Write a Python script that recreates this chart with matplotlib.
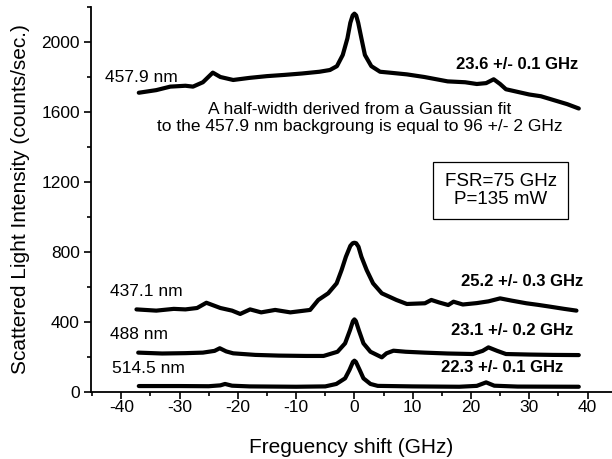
import numpy as np
import matplotlib
matplotlib.use("Agg")
import matplotlib.pyplot as plt
from matplotlib.ticker import MultipleLocator

plt.rcParams['font.family'] = ['Liberation Sans', 'DejaVu Sans']
plt.rcParams['axes.unicode_minus'] = False

# 457.9 nm
x_4579 = [-37, -34, -31.6, -29, -27.7, -26, -24.3, -23, -20.8, -18, -15, -12, -9, -6,
          -4.2, -3.0, -2.0, -1.2, -0.7, -0.3, 0, 0.3, 0.65, 1.2, 1.8, 2.9, 4.4,
          6, 9, 12, 16, 19, 21, 22.6, 23.9, 25, 26, 28, 30, 32, 34, 35, 36.5, 38.5]
y_4579 = [1710, 1725, 1745, 1750, 1745, 1770, 1825, 1800, 1783, 1795, 1805, 1812, 1820, 1830,
          1840, 1862, 1926, 2021, 2110, 2152, 2162, 2152, 2110, 2021, 1926, 1862, 1830,
          1825, 1815, 1800, 1775, 1770, 1760, 1765, 1787, 1760, 1730, 1715, 1700, 1690,
          1670, 1660, 1645, 1620]

# 437.1 nm
x_4371 = [-37.4, -34, -31, -29, -27, -25.4, -23, -21, -19.6, -17.9, -16, -13.6, -11, -7.6,
          -6.2, -4.5, -3.05, -2.2, -1.46, -0.7, -0.3, 0, 0.3, 0.7, 1.2, 2.1, 3.2, 4.7, 7.2,
          9, 12.1, 13.2, 14.5, 16.1, 17, 18.6, 21, 23, 25, 27, 29.5, 31.5, 33.5, 36, 38.1]
y_4371 = [472, 465, 475, 472, 480, 510, 480, 465, 446, 472, 455, 469, 455, 469,
          526, 564, 621, 697, 773, 835, 850, 853, 850, 830, 773, 697, 621, 564, 526,
          503, 507, 526, 512, 497, 516, 500, 508, 518, 535, 522, 507, 498, 488, 475, 465]

# 488 nm
x_488 = [-37.1, -33, -29, -26, -24, -23.1, -22, -20.8, -17, -13, -8.3, -5.3, -2.9, -1.6,
         -0.75, -0.25, 0, 0.25, 0.75, 1.55, 2.75, 4.7, 5.5, 6.7, 8.8, 12, 16, 20.3, 22, 23,
         24.5, 26, 30, 34, 38.5]
y_488 = [225, 220, 222, 225, 235, 250, 232, 221, 212, 208, 206, 206, 230, 278,
         354, 405, 415, 405, 354, 278, 230, 198, 221, 236, 230, 225, 220, 217, 235, 255,
         235, 217, 214, 212, 211]

# 514.5 nm
x_5145 = [-37, -30, -25, -23, -22.2, -21, -18, -10, -5, -3.1, -1.6, -0.85, -0.25, 0,
          0.25, 0.9, 1.55, 2.75, 4, 10, 18, 21, 22.6, 24, 28, 38.5]
y_5145 = [34, 34, 33, 38, 46, 36, 32, 30, 32, 46, 78, 126, 172, 179,
          172, 126, 78, 46, 35, 32, 30, 35, 55, 36, 31, 30]

fig = plt.figure(figsize=(6.12, 4.59), dpi=100)
ax = fig.add_axes([91/612, 67/459, 1 - 91/612, (392 - 7)/459])

for xs, ys in [(x_4579, y_4579), (x_4371, y_4371), (x_488, y_488), (x_5145, y_5145)]:
    ax.plot(xs, ys, color='black', lw=3, solid_capstyle='round', solid_joinstyle='round')

ax.set_xlim(-45.2, 44.2)
ax.set_ylim(0, 2200)
ax.spines['top'].set_visible(False)
ax.spines['right'].set_visible(False)
ax.spines['left'].set_linewidth(1.3)
ax.spines['bottom'].set_linewidth(1.3)
ax.xaxis.set_major_locator(MultipleLocator(10))
ax.xaxis.set_minor_locator(MultipleLocator(5))
ax.yaxis.set_major_locator(MultipleLocator(400))
ax.yaxis.set_minor_locator(MultipleLocator(200))
ax.tick_params(which='major', length=5, width=1.2, labelsize=12.5, direction='out')
ax.tick_params(which='minor', length=3, width=1.2, direction='out')
ax.tick_params(axis='x', pad=1)
ax.tick_params(axis='y', pad=3)

ax.set_xlabel("Freguency shift (GHz)", fontsize=15, labelpad=16)
ax.set_ylabel("Scattered Light Intensity (counts/sec.)", fontsize=15, labelpad=8)

ax.text(-42.8, 1800, "457.9 nm", fontsize=12.5, va='center', ha='left')
ax.text(27.9, 1869, "23.6 +/- 0.1 GHz", fontsize=12, fontweight='bold', ha='center', va='center')
ax.text(0.9, 1566, "A half-width derived from a Gaussian fit\nto the 457.9 nm backgroung is equal to 96 +/- 2 GHz",
        fontsize=12.5, ha='center', va='center', linespacing=1.1)
ax.text(25.1, 1151, "FSR=75 GHz\nP=135 mW", fontsize=13.5, ha='center', va='center',
        linespacing=1.05,
        bbox=dict(boxstyle='square,pad=0.6', fc='white', ec='black', lw=0.9))
ax.text(-41.9, 573, "437.1 nm", fontsize=12.5, va='center', ha='left')
ax.text(28.8, 630, "25.2 +/- 0.3 GHz", fontsize=12, fontweight='bold', ha='center', va='center')
ax.text(-41.9, 326, "488 nm", fontsize=12.5, va='center', ha='left')
ax.text(27.0, 354, "23.1 +/- 0.2 GHz", fontsize=12, fontweight='bold', ha='center', va='center')
ax.text(-41.6, 135, "514.5 nm", fontsize=12.5, va='center', ha='left')
ax.text(25.4, 141, "22.3 +/- 0.1 GHz", fontsize=12, fontweight='bold', ha='center', va='center')

fig.savefig("out.png", dpi=100)
